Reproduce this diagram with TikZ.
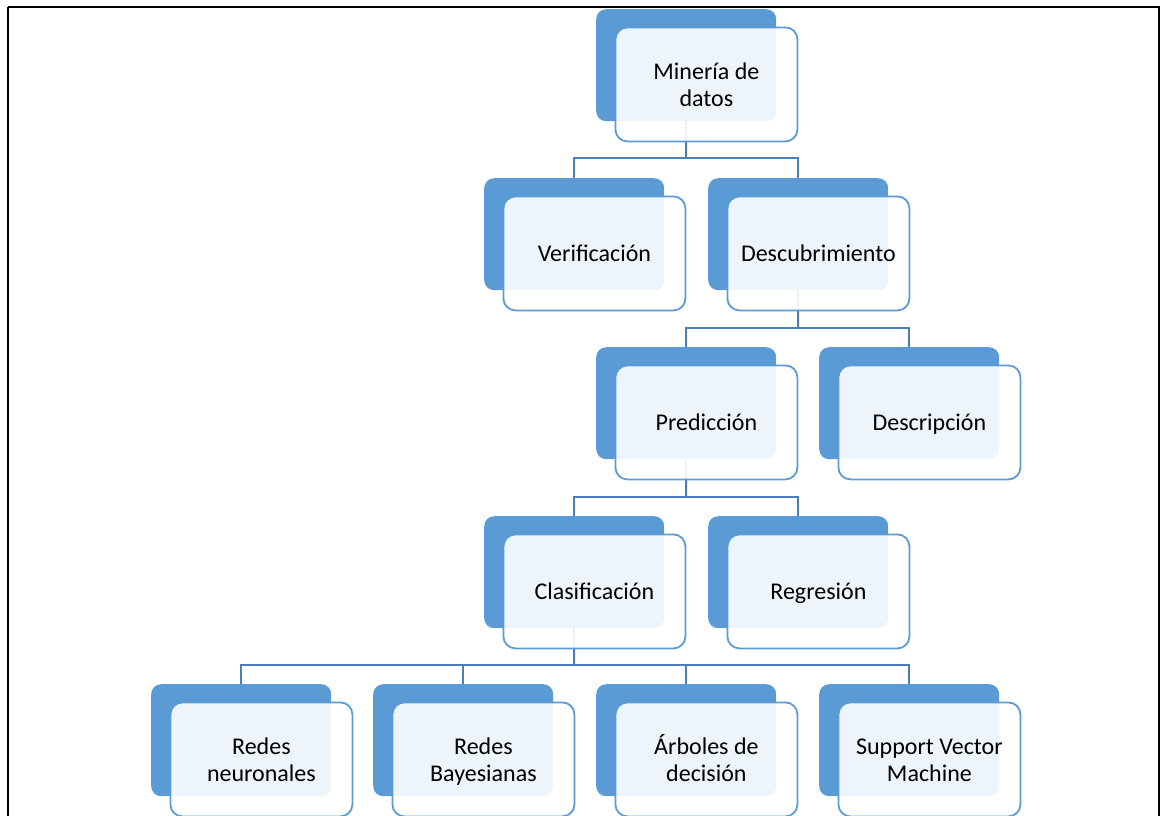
\documentclass[tikz,border=0pt]{standalone}
\usepackage{fontspec}
\setmainfont{Carlito}
\definecolor{accent}{HTML}{5B9BD5}
\definecolor{conn}{HTML}{4A7EBB}
\newcommand{\tallstrut}{\rule{0pt}{24.9pt}}
\tikzset{
  back/.style={fill=accent, draw=none, rounded corners=10pt, minimum width=180pt, minimum height=112pt, inner sep=0pt, anchor=north west},
  front/.style={draw=accent, line width=1.8pt, fill=white, fill opacity=0.9, text opacity=1, rounded corners=12pt, minimum width=182pt, minimum height=114pt, inner sep=0pt, anchor=north west, align=center, font=\fontsize{24}{27}\selectfont, text=black},
  single/.style={front, execute at begin node={\tallstrut}, execute at end node=\strut},
  link/.style={draw=conn, line width=2pt},
  frame/.style={draw=black, line width=1.6pt}
}
\begin{document}
\begin{tikzpicture}[x=1pt, y=-1pt]
\useasboundingbox (0,0) rectangle (1162,815);
\path[frame] (8,7) -- (1159,7) -- (1159,830) (8,7) -- (8,830);
% back boxes
\node[back] (dmin) at (596,9) {};
\node[back] (dver) at (484,178) {};
\node[back] (ddes) at (708,178) {};
\node[back] (dpre) at (596,347) {};
\node[back] (ddsc) at (819,347) {};
\node[back] (dcla) at (484,516) {};
\node[back] (dreg) at (708,516) {};
\node[back] (drn)  at (151,684) {};
\node[back] (drb)  at (373,684) {};
\node[back] (darb) at (596,684) {};
\node[back] (dsvm) at (819,684) {};
% connectors
\coordinate (b1) at (686,158);
\coordinate (b2) at (798,328);
\coordinate (b3) at (686,497);
\coordinate (b4) at (574,665);
\draw[link] (dmin.south) -- (b1);
\draw[link] (b1) -| (dver.north);
\draw[link] (b1) -| (ddes.north);
\draw[link] (ddes.south) -- (b2);
\draw[link] (b2) -| (dpre.north);
\draw[link] (b2) -| (ddsc.north);
\draw[link] (dpre.south) -- (b3);
\draw[link] (b3) -| (dcla.north);
\draw[link] (b3) -| (dreg.north);
\draw[link] (dcla.south) -- (b4);
\draw[link] (b4) -| (drn.north);
\draw[link] (b4) -| (drb.north);
\draw[link] (b4) -| (darb.north);
\draw[link] (b4) -| (dsvm.north);
% front boxes
\node[front] (fmin) at (614.5,26.5) {\tallstrut Minería de\\\strut datos};
\node[single] (fver) at (502.5,195.5) {Verificación};
\node[single] (fdes) at (726.5,195.5) {Descubrimiento};
\node[single] (fpre) at (614.5,364.5) {Predicción};
\node[single] (fdsc) at (837.5,364.5) {Descripción};
\node[single] (fcla) at (502.5,533.5) {Clasificación};
\node[single] (freg) at (726.5,533.5) {Regresión};
\node[front] (frn)  at (169.5,701.5) {\tallstrut Redes\\\strut neuronales};
\node[front] (frb)  at (391.5,701.5) {\tallstrut Redes\\\strut Bayesianas};
\node[front] (farb) at (614.5,701.5) {\tallstrut Árboles de\\\strut decisión};
\node[front] (fsvm) at (837.5,701.5) {\tallstrut Support Vector\\\strut Machine};
\end{tikzpicture}
\end{document}
